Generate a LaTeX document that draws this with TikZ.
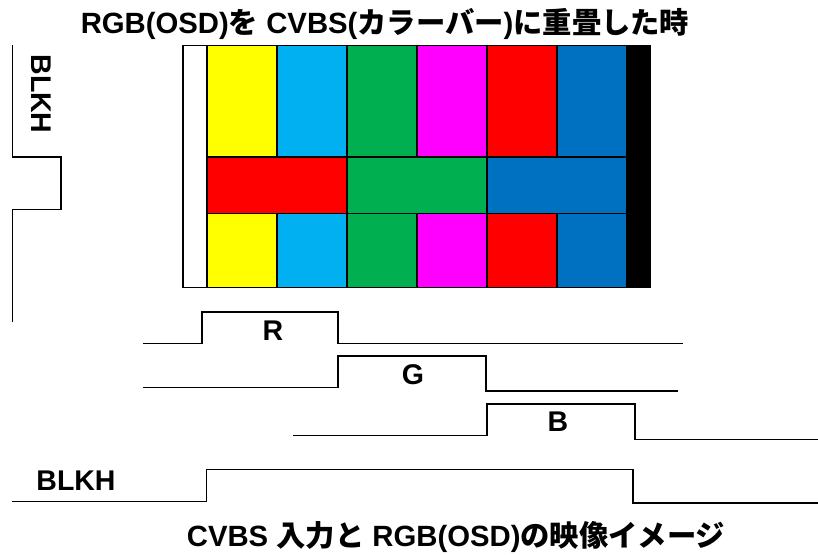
\documentclass[tikz,border=0pt]{standalone}
\usepackage{fontspec}
\setmainfont{Liberation Sans}
\newfontfamily\cjk{Noto Sans CJK JP}
\newcommand{\jp}[1]{{\cjk #1}}
\usepackage{tikz}
\usetikzlibrary{positioning}

\definecolor{barYellow}{RGB}{255,255,0}
\definecolor{barCyan}{RGB}{0,176,240}
\definecolor{barGreen}{RGB}{0,176,80}
\definecolor{barMagenta}{RGB}{255,0,255}
\definecolor{barRed}{RGB}{255,0,0}
\definecolor{barBlue}{RGB}{0,112,192}

\tikzset{
  bar/.style={draw=black, line width=1.6pt},
  wave/.style={draw=black, line width=1.6pt, line join=miter},
  lbl/.style={inner sep=0pt, anchor=base, font=\fontsize{28.5}{30}\selectfont\bfseries},
  headline/.style={lbl, font=\fontsize{29.3}{31}\selectfont\bfseries}
}

\begin{document}
\begin{tikzpicture}[x=1pt, y=-1pt]

\useasboundingbox (0, 0) rectangle (818, 554);

% frame and side bars
\draw [bar, fill=white] (183, 45.5) rectangle (207, 287.5);
\draw [bar, fill=black] (627, 45.5) rectangle (650, 287.5);

% top row
\draw [bar, fill=barYellow] (207, 45.5) rectangle (277, 157);
\draw [bar, fill=barCyan] (277, 45.5) rectangle (347, 157);
\draw [bar, fill=barGreen] (347, 45.5) rectangle (417, 157);
\draw [bar, fill=barMagenta] (417, 45.5) rectangle (487, 157);
\draw [bar, fill=barRed] (487, 45.5) rectangle (557, 157);
\draw [bar, fill=barBlue] (557, 45.5) rectangle (627, 157);

% middle row
\draw [bar, fill=barRed] (207, 157) rectangle (347, 213.5);
\draw [bar, fill=barGreen] (347, 157) rectangle (487, 213.5);
\draw [bar, fill=barBlue] (487, 157) rectangle (627, 213.5);

% bottom row
\draw [bar, fill=barYellow] (207, 213.5) rectangle (277, 287.5);
\draw [bar, fill=barCyan] (277, 213.5) rectangle (347, 287.5);
\draw [bar, fill=barGreen] (347, 213.5) rectangle (417, 287.5);
\draw [bar, fill=barMagenta] (417, 213.5) rectangle (487, 287.5);
\draw [bar, fill=barRed] (487, 213.5) rectangle (557, 287.5);
\draw [bar, fill=barBlue] (557, 213.5) rectangle (627, 287.5);

% waveforms
\draw [wave] (12.5, 45) |- (61, 157) |- (12.5, 209.5) -- (12.5, 322);
\draw [wave] (143, 343.5) -| (202, 312) -| (338, 343.5) -- (683, 343.5);
\draw [wave] (143, 387.5) -| (338, 356) -| (486, 391) -- (678, 391);
\draw [wave] (293, 435.5) -| (487, 404) -| (635, 439.5) -- (818, 439.5);
\draw [wave] (12, 501.5) -| (206.5, 469.5) -| (633, 503) -- (818, 503);

% labels
\node [headline] (title) at (385, 33.5) {RGB(OSD)\jp{を} CVBS(\jp{カラーバー})\jp{に重畳した時}};
\node [lbl, rotate=-90] (blkhV) at (31, 94) {BLKH};
\node [lbl] (labR) at (273, 340.5) {R};
\node [lbl] (labG) at (413, 384) {G};
\node [lbl] (labB) at (558, 431.5) {B};
\node [lbl] (blkhH) at (76, 490) {BLKH};
\node [headline] (caption) at (456, 546) {CVBS \jp{入力と} RGB(OSD)\jp{の映像イメージ}};

\end{tikzpicture}
\end{document}
